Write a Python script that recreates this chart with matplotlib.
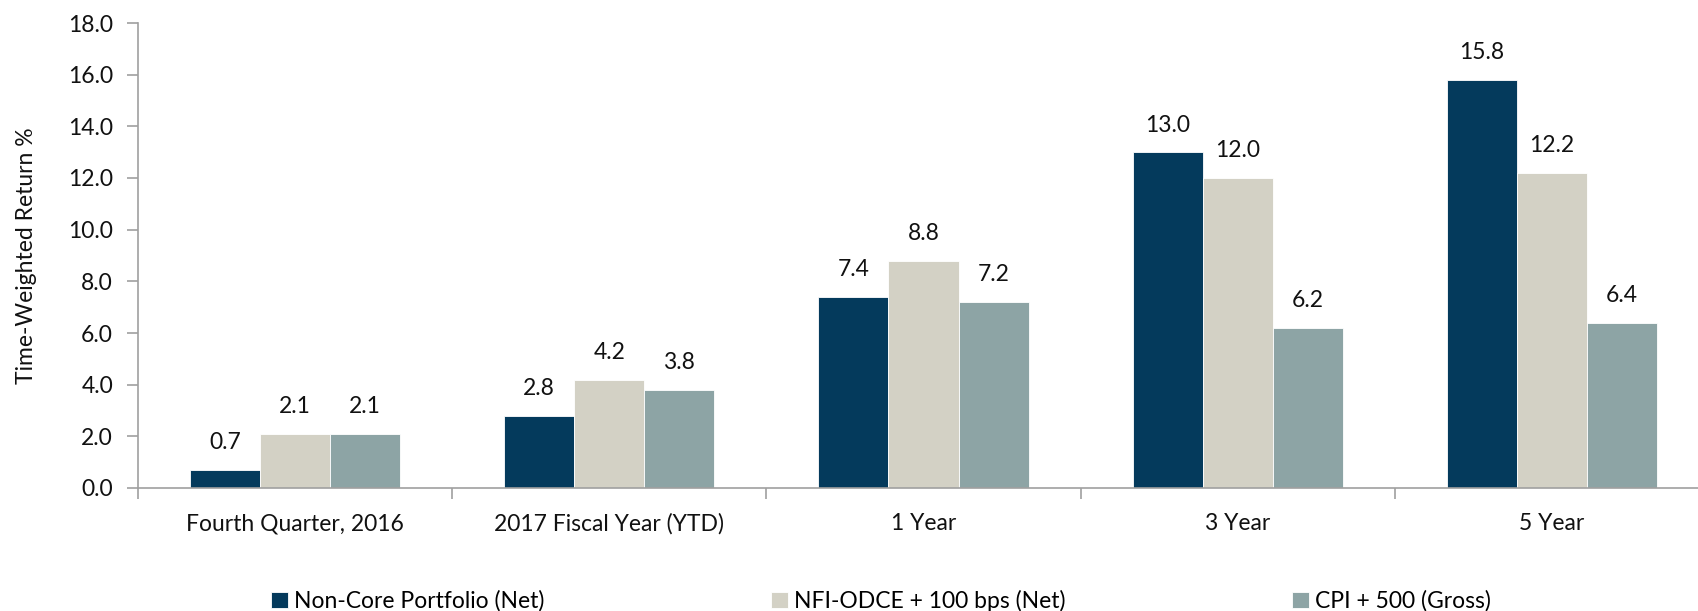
import matplotlib
matplotlib.use("Agg")
import matplotlib.pyplot as plt
import numpy as np

plt.rcParams['font.family'] = ['Lato', 'DejaVu Sans']

# данные с графика
categories = ['Fourth Quarter, 2016', '2017 Fiscal Year (YTD)', '1 Year', '3 Year', '5 Year']
series_names = ['Non-Core Portfolio (Net)', 'NFI-ODCE + 100 bps (Net)', 'CPI + 500 (Gross)']
non_core = [0.7, 2.8, 7.4, 13.0, 15.8]
nfi_odce = [2.1, 4.2, 8.8, 12.0, 12.2]
cpi_500 = [2.1, 3.8, 7.2, 6.2, 6.4]
y_ticks = [0, 2, 4, 6, 8, 10, 12, 14, 16, 18]

colors = ['#043A5C', '#D3D1C5', '#8DA4A5']
FS = 16.5

fig = plt.figure(figsize=(16.98, 6.11), dpi=100)
# правый край оси уходит за край картинки, как в оригинале
ax = fig.add_axes([138 / 1698, 1 - 488 / 611, (1709 - 138) / 1698, (488 - 23) / 611])

x = np.arange(len(categories))
w = 0.223
bars = []
for i, (vals, name) in enumerate(zip([non_core, nfi_odce, cpi_500], series_names)):
    b = ax.bar(x + (i - 1) * w, vals, width=w, color=colors[i], edgecolor='white',
               linewidth=0.6, label=name)
    ax.bar_label(b, labels=[f'{v:.1f}' for v in vals], padding=12, fontsize=FS, color='#111111')
    bars.append(b)

ax.set_xlim(-0.5, 4.5)
ax.set_ylim(0, 18)
ax.set_yticks(y_ticks)
ax.set_yticklabels([f'{v:.1f}' for v in y_ticks])
ax.set_xticks(x)
ax.set_xticklabels(categories)
ax.set_xticks(np.arange(-0.5, 5.0, 1.0), minor=True)

ax.tick_params(axis='x', which='major', length=0, pad=18, labelsize=FS, colors='#111111')
ax.tick_params(axis='x', which='minor', length=8, width=1.2, color='#A0A0A0', direction='out')
ax.tick_params(axis='y', length=8, width=1.2, color='#A0A0A0', pad=10, labelsize=FS,
               labelcolor='#111111')

for s in ['top', 'right']:
    ax.spines[s].set_visible(False)
for s in ['left', 'bottom']:
    ax.spines[s].set_color('#A0A0A0')
    ax.spines[s].set_linewidth(1.2)

ax.set_ylabel('Time-Weighted Return %', fontsize=FS, color='#111111', labelpad=22)

leg = fig.legend(handles=bars, labels=series_names, loc='center left', ncol=3,
                 bbox_to_anchor=(262 / 1698, 1 - 601 / 611, (1500 - 262) / 1698, 0.0),
                 mode='expand', frameon=False, fontsize=FS, handlelength=0.75,
                 handleheight=0.75, handletextpad=0.25, borderaxespad=0)

fig.savefig('out.png', dpi=100)
